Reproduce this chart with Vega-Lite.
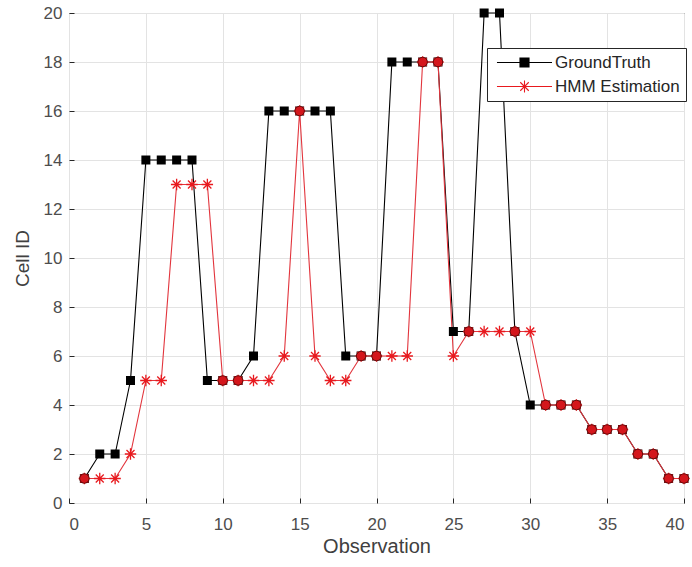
{
  "$schema": "https://vega.github.io/schema/vega-lite/v6.json",
  "width": 615,
  "height": 490,
  "autosize": "none",
  "padding": {"left": 69, "top": 13, "right": 8, "bottom": 64},
  "background": "white",
  "config": {
    "font": "Liberation Sans",
    "view": {"stroke": "#262626", "strokeWidth": 1},
    "axis": {
      "domain": false,
      "grid": true,
      "gridColor": "#e3e3e3",
      "gridWidth": 1,
      "ticks": true,
      "tickColor": "#262626",
      "tickSize": -5,
      "labelColor": "#4d4d4d",
      "labelFontSize": 17,
      "titleColor": "#404040",
      "titleFontWeight": "normal"
    }
  },
  "data": {
    "values": [
      {"obs": 1, "GroundTruth": 1, "HMM Estimation": 1},
      {"obs": 2, "GroundTruth": 2, "HMM Estimation": 1},
      {"obs": 3, "GroundTruth": 2, "HMM Estimation": 1},
      {"obs": 4, "GroundTruth": 5, "HMM Estimation": 2},
      {"obs": 5, "GroundTruth": 14, "HMM Estimation": 5},
      {"obs": 6, "GroundTruth": 14, "HMM Estimation": 5},
      {"obs": 7, "GroundTruth": 14, "HMM Estimation": 13},
      {"obs": 8, "GroundTruth": 14, "HMM Estimation": 13},
      {"obs": 9, "GroundTruth": 5, "HMM Estimation": 13},
      {"obs": 10, "GroundTruth": 5, "HMM Estimation": 5},
      {"obs": 11, "GroundTruth": 5, "HMM Estimation": 5},
      {"obs": 12, "GroundTruth": 6, "HMM Estimation": 5},
      {"obs": 13, "GroundTruth": 16, "HMM Estimation": 5},
      {"obs": 14, "GroundTruth": 16, "HMM Estimation": 6},
      {"obs": 15, "GroundTruth": 16, "HMM Estimation": 16},
      {"obs": 16, "GroundTruth": 16, "HMM Estimation": 6},
      {"obs": 17, "GroundTruth": 16, "HMM Estimation": 5},
      {"obs": 18, "GroundTruth": 6, "HMM Estimation": 5},
      {"obs": 19, "GroundTruth": 6, "HMM Estimation": 6},
      {"obs": 20, "GroundTruth": 6, "HMM Estimation": 6},
      {"obs": 21, "GroundTruth": 18, "HMM Estimation": 6},
      {"obs": 22, "GroundTruth": 18, "HMM Estimation": 6},
      {"obs": 23, "GroundTruth": 18, "HMM Estimation": 18},
      {"obs": 24, "GroundTruth": 18, "HMM Estimation": 18},
      {"obs": 25, "GroundTruth": 7, "HMM Estimation": 6},
      {"obs": 26, "GroundTruth": 7, "HMM Estimation": 7},
      {"obs": 27, "GroundTruth": 20, "HMM Estimation": 7},
      {"obs": 28, "GroundTruth": 20, "HMM Estimation": 7},
      {"obs": 29, "GroundTruth": 7, "HMM Estimation": 7},
      {"obs": 30, "GroundTruth": 4, "HMM Estimation": 7},
      {"obs": 31, "GroundTruth": 4, "HMM Estimation": 4},
      {"obs": 32, "GroundTruth": 4, "HMM Estimation": 4},
      {"obs": 33, "GroundTruth": 4, "HMM Estimation": 4},
      {"obs": 34, "GroundTruth": 3, "HMM Estimation": 3},
      {"obs": 35, "GroundTruth": 3, "HMM Estimation": 3},
      {"obs": 36, "GroundTruth": 3, "HMM Estimation": 3},
      {"obs": 37, "GroundTruth": 2, "HMM Estimation": 2},
      {"obs": 38, "GroundTruth": 2, "HMM Estimation": 2},
      {"obs": 39, "GroundTruth": 1, "HMM Estimation": 1},
      {"obs": 40, "GroundTruth": 1, "HMM Estimation": 1}
    ]
  },
  "layer": [
    {
      "mark": {"type": "line", "color": "#000000", "strokeWidth": 1.1},
      "encoding": {
        "x": {"field": "obs", "type": "quantitative", "scale": {"domain": [0, 40], "nice": false},
              "axis": {"title": "Observation", "values": [0,5,10,15,20,25,30,35,40], "labelPadding": 18, "titlePadding": 4, "titleFontSize": 20}},
        "y": {"field": "GroundTruth", "type": "quantitative", "scale": {"domain": [0, 20], "nice": false},
              "axis": {"title": "Cell ID", "values": [0,2,4,6,8,10,12,14,16,18,20], "labelPadding": 12, "titlePadding": 11, "titleFontSize": 19}}
      }
    },
    {
      "mark": {"type": "line", "color": "#e2353d", "strokeWidth": 1.1},
      "encoding": {
        "x": {"field": "obs", "type": "quantitative"},
        "y": {"field": "HMM Estimation", "type": "quantitative"}
      }
    },
    {
      "transform": [{"fold": ["GroundTruth", "HMM Estimation"], "as": ["series", "cell"]}],
      "mark": {"type": "point", "filled": true, "opacity": 1,
               "shape": {"expr": "datum.series === 'GroundTruth' ? 'square' : datum.series === 'HMM Estimation' ? 'M0,-1L0,1M-1,0L1,0M-0.7,-0.7L0.7,0.7M-0.7,0.7L0.7,-0.7' : datum.value === 'GroundTruth' ? 'M-5.25,0L5.25,0M-0.86,-0.86L0.86,-0.86L0.86,0.86L-0.86,0.86Z' : 'M-5.25,0L5.25,0M0,-1.15L0,1.15M-1.15,0L1.15,0M-0.81,-0.81L0.81,0.81M-0.81,0.81L0.81,-0.81'"},
               "size": {"expr": "datum.series === 'GroundTruth' ? 81 : datum.series === 'HMM Estimation' ? 130 : 110"},
               "stroke": {"expr": "datum.series === 'GroundTruth' ? null : datum.series === 'HMM Estimation' ? '#e8191e' : datum.value === 'GroundTruth' ? '#000000' : '#e8191e'"},
               "strokeWidth": 1.3},
      "encoding": {
        "x": {"field": "obs", "type": "quantitative"},
        "y": {"field": "cell", "type": "quantitative"},
        "color": {"field": "series", "type": "nominal",
                  "scale": {"domain": ["GroundTruth", "HMM Estimation"], "range": ["#000000", "#e8191e"]},
                  "legend": {"title": null, "orient": "none", "legendX": 418, "legendY": 35,
                             "fillColor": "white", "strokeColor": "#262626", "padding": 6,
                             "labelFontSize": 17, "labelColor": "#262626", "symbolSize": 110,
                             "symbolStrokeWidth": 1.1, "rowPadding": 6, "symbolOffset": 23, "labelOffset": 22}}
      }
    },
    {
      "transform": [{"filter": "datum['GroundTruth'] == datum['HMM Estimation']"}],
      "mark": {"type": "point", "shape": "circle", "filled": true, "color": "#d4161c", "stroke": "#6a0a0a", "strokeWidth": 1, "size": 90, "opacity": 1},
      "encoding": {
        "x": {"field": "obs", "type": "quantitative"},
        "y": {"field": "HMM Estimation", "type": "quantitative"}
      }
    }
  ]
}
